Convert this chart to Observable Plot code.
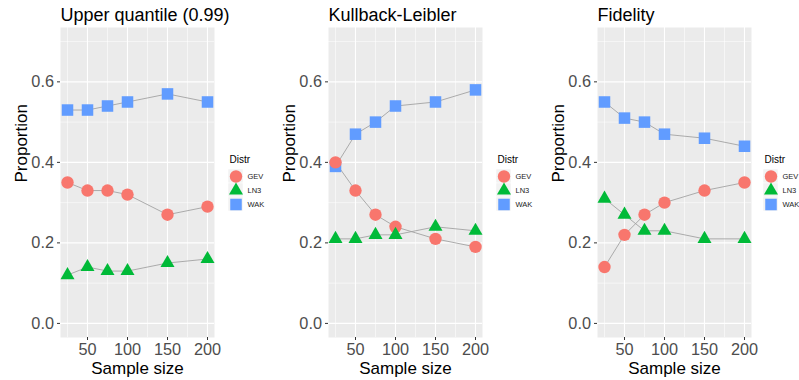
<!DOCTYPE html>
<html><head><meta charset="utf-8">
<script src="https://cdn.jsdelivr.net/npm/d3@7"></script>
<script src="https://cdn.jsdelivr.net/npm/@observablehq/plot@0.6"></script>
<style>
body{margin:0;background:#fff;overflow:hidden}
#c{position:relative;width:799px;height:380px;overflow:hidden;font-family:"Liberation Sans",Arial,sans-serif}
.p{position:absolute;top:0}
</style></head><body><div id="c"></div>
<script>
const sampleSizes = [25, 50, 75, 100, 150, 200];
const distrs = ["GEV", "LN3", "WAK"];
const distrColors = ["#F8766D", "#00BA38", "#619CFF"];
const distrSymbols = ["circle", "triangle", "square"];
const panelTitles = ["Upper quantile (0.99)", "Kullback-Leibler", "Fidelity"];
const xTicks = [50, 100, 150, 200];
const xMinorTicks = [25, 75, 125, 175];
const yTicks = [0, 0.2, 0.4, 0.6];
const yMinorTicks = [0.1, 0.3, 0.5, 0.7];

// Upper quantile (0.99)
const uqGEV = [0.35, 0.33, 0.33, 0.32, 0.27, 0.29];
const uqLN3 = [0.12, 0.14, 0.13, 0.13, 0.15, 0.16];
const uqWAK = [0.53, 0.53, 0.54, 0.55, 0.57, 0.55];
// Kullback-Leibler
const klGEV = [0.40, 0.33, 0.27, 0.24, 0.21, 0.19];
const klLN3 = [0.21, 0.21, 0.22, 0.22, 0.24, 0.23];
const klWAK = [0.39, 0.47, 0.50, 0.54, 0.55, 0.58];
// Fidelity
const fiGEV = [0.14, 0.22, 0.27, 0.30, 0.33, 0.35];
const fiLN3 = [0.31, 0.27, 0.23, 0.23, 0.21, 0.21];
const fiWAK = [0.55, 0.51, 0.50, 0.47, 0.46, 0.44];

const panelSeries = [[uqGEV, uqLN3, uqWAK], [klGEV, klLN3, klWAK], [fiGEV, fiLN3, fiWAK]];
const symbolRadius = {GEV: 6.2, LN3: 5.2, WAK: 6.5};
const plotLefts = [60, 328, 597];
const legendOffsets = [168, 168, 166];
const FONT = '"Liberation Sans", Arial, sans-serif';

const container = document.getElementById("c");

panelTitles.forEach((title, i) => {
  const rows = [];
  distrs.forEach((d, j) => {
    sampleSizes.forEach((n, k) => rows.push({distr: d, size: n, value: panelSeries[i][j][k]}));
  });

  const chart = Plot.plot({
    width: 224, height: 380,
    marginLeft: 60, marginRight: 10, marginTop: 27, marginBottom: 43,
    style: {fontFamily: FONT, background: "transparent", overflow: "visible"},
    x: {domain: [16.25, 208.75]},
    y: {domain: [-0.035, 0.735]},
    color: {domain: distrs, range: distrColors},
    symbol: {domain: distrs, range: distrSymbols},
    r: {type: "identity"},
    marks: [
      Plot.frame({fill: "#ebebeb", stroke: null}),
      Plot.gridX(xMinorTicks, {stroke: "white", strokeOpacity: 1, strokeWidth: 0.55}),
      Plot.gridY(yMinorTicks, {stroke: "white", strokeOpacity: 1, strokeWidth: 0.55}),
      Plot.gridX(xTicks, {stroke: "white", strokeOpacity: 1, strokeWidth: 1.1}),
      Plot.gridY(yTicks, {stroke: "white", strokeOpacity: 1, strokeWidth: 1.1}),
      Plot.axisX(xTicks, {tickSize: 3, tickPadding: 3, fontSize: 16.3, fill: "#4d4d4d", stroke: "#333333", label: null}),
      Plot.axisY(yTicks, {tickSize: 3, tickPadding: 3.5, fontSize: 16.3, fill: "#4d4d4d", stroke: "#333333", label: null, tickFormat: d3.format(".1f")}),
      Plot.line(rows, {x: "size", y: "value", z: "distr", stroke: "#a3a3a3", strokeWidth: 0.9}),
      Plot.dot(rows, {x: "size", y: "value", symbol: "distr", fill: "distr", stroke: null, r: d => symbolRadius[d.distr]}),
      Plot.text([title], {frameAnchor: "top-left", dy: -7, lineAnchor: "bottom", textAnchor: "start", fontSize: 18, fill: "black"}),
      Plot.text(["Sample size"], {frameAnchor: "bottom", dy: 36, lineAnchor: "bottom", fontSize: 17, fill: "black"}),
      Plot.text(["Proportion"], {frameAnchor: "left", dx: -34, rotate: -90, lineAnchor: "bottom", fontSize: 17, fill: "black"})
    ]
  });
  chart.classList.add("p");
  chart.style.left = (plotLefts[i] - 60) + "px";
  container.appendChild(chart);

  const legend = Plot.plot({
    width: 70, height: 70, margin: 0,
    style: {fontFamily: FONT, background: "transparent", overflow: "visible"},
    x: {type: "identity", axis: null},
    y: {type: "band", domain: distrs, range: [17.5, 61.5], padding: 0, axis: null},
    color: {domain: distrs, range: distrColors},
    symbol: {domain: distrs, range: distrSymbols},
    r: {type: "identity"},
    marks: [
      Plot.barX(distrs, {x1: 0, x2: 15, y: d => d, fill: "#f2f2f2", stroke: "white", strokeWidth: 0.5}),
      Plot.dot(distrs, {x: 7.5, y: d => d, symbol: d => d, fill: d => d, stroke: null, r: d => symbolRadius[d]}),
      Plot.text(distrs, {x: 19, y: d => d, text: d => d, textAnchor: "start", fontSize: 7.5, fill: "#222"}),
      Plot.text(["Distr"], {frameAnchor: "top-left", dx: 1, dy: 12, lineAnchor: "bottom", textAnchor: "start", fontSize: 10, fill: "black"})
    ]
  });
  legend.classList.add("p");
  legend.style.left = (plotLefts[i] + legendOffsets[i]) + "px";
  legend.style.top = "150px";
  container.appendChild(legend);
});
</script>
</body></html>
